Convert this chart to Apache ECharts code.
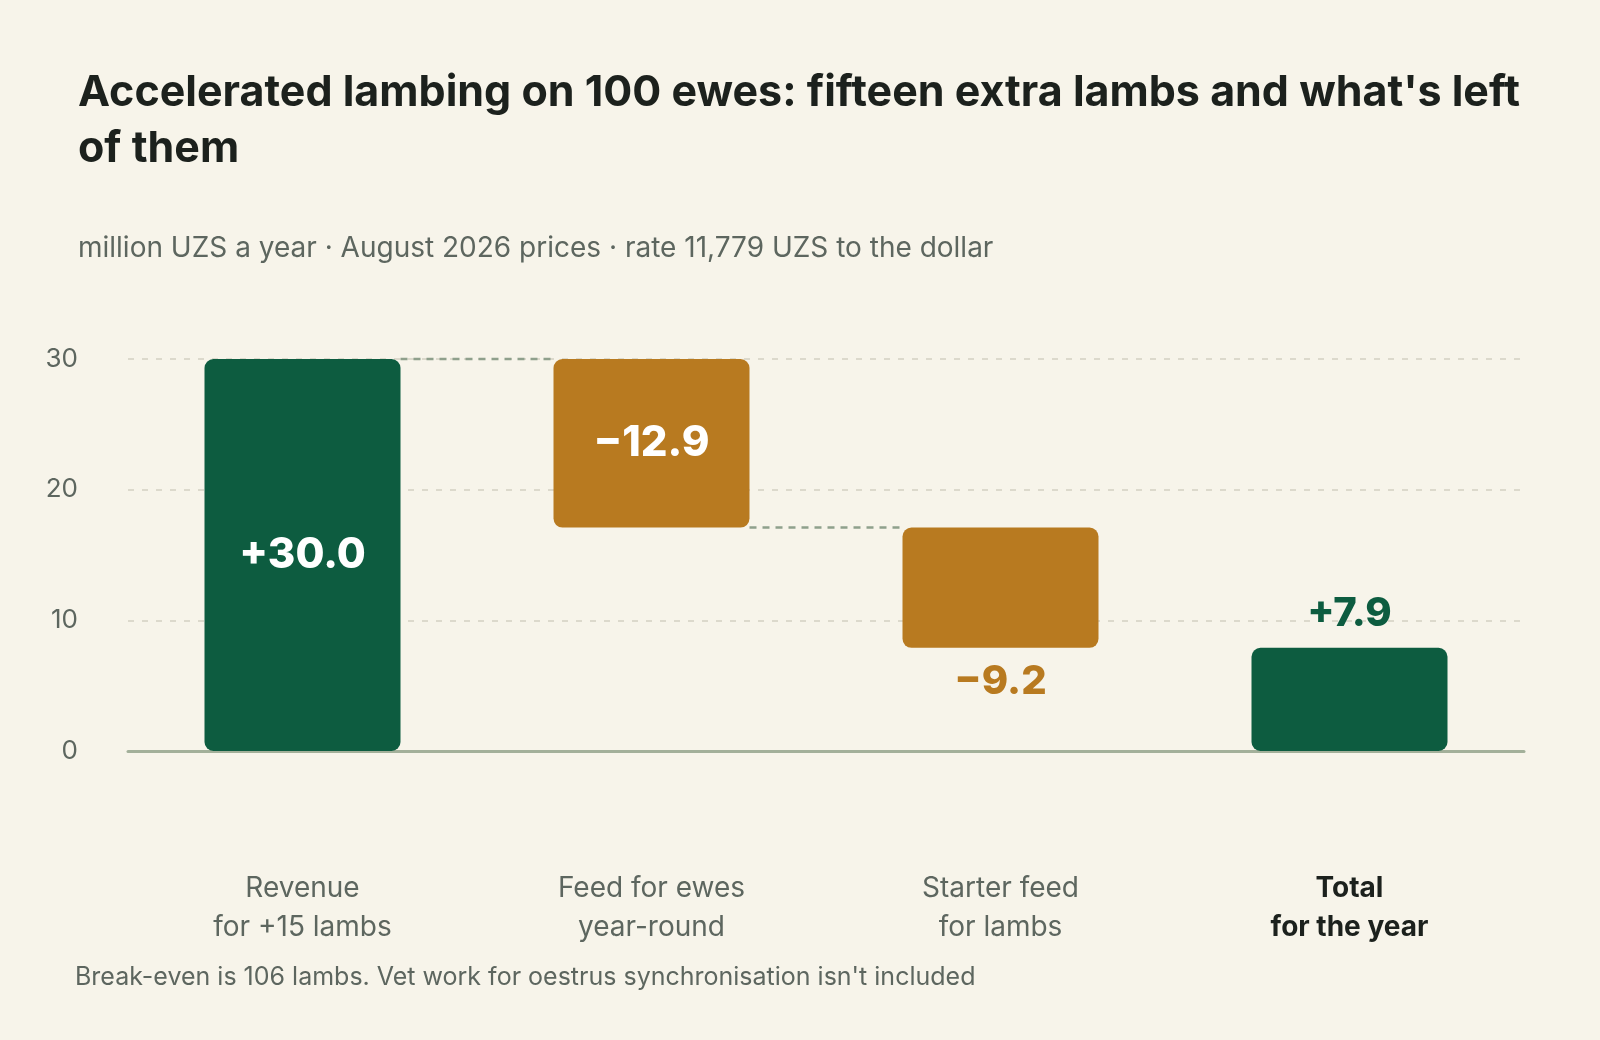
<!DOCTYPE html>
<html><head><meta charset="utf-8">
<script src="https://cdn.jsdelivr.net/npm/echarts@6/dist/echarts.min.js"></script>
<style>html,body{margin:0;background:#f7f4ea}#c{width:1600px;height:1040px}</style>
</head><body><div id="c"></div>
<script>
const categories = ['Revenue\nfor +15 lambs','Feed for ewes\nyear-round','Starter feed\nfor lambs','Total\nfor the year'];
const changes = [30.0, -12.9, -9.2, 7.9];
const labels = ['+30.0','−12.9','−9.2','+7.9'];
const yTicks = [0,10,20,30];

const GREEN='#0d5c40', ORANGE='#b87a20';
const base=[], height=[];
let run=0;
changes.forEach((v,i)=>{
  if(i===changes.length-1){base.push(0);height.push(v);return;}
  const nr=run+v;
  base.push(Math.min(run,nr)); height.push(Math.abs(v)); run=nr;
});
const connectors=[];
run=0;
for(let i=0;i<changes.length-2;i++){run+=changes[i];connectors.push([i,run]);}

const labelPos=[
 {position:'inside',color:'#fff',fontSize:42},
 {position:'inside',color:'#fff',fontSize:42},
 {position:'bottom',color:ORANGE,fontSize:40,distance:14},
 {position:'top',color:GREEN,fontSize:40,distance:14}
];
const chart=echarts.init(document.getElementById('c'));
chart.setOption({
 backgroundColor:'#f7f4ea',
 textStyle:{fontFamily:'Inter'},
 title:{text:"Accelerated lambing on 100 ewes: fifteen extra lambs and what's left\nof them",
  subtext:'million UZS a year · August 2026 prices · rate 11,779 UZS to the dollar',
  left:73,top:60,itemGap:58,
  textStyle:{fontFamily:'Inter',fontSize:43,fontWeight:'bold',color:'#1c211d',lineHeight:56},
  subtextStyle:{fontFamily:'Inter',fontSize:28,color:'#5d665f'}},
 graphic:[{type:'text',left:75,top:965,style:{text:"Break-even is 106 lambs. Vet work for oestrus synchronisation isn't included",font:'25px Inter',fill:'#5d665f'}}],
 grid:{left:128,right:76,top:359,bottom:289},
 xAxis:{type:'category',data:categories,axisTick:{show:false},
  axisLine:{lineStyle:{color:'#a3b09a',width:3}},
  axisLabel:{margin:118,fontSize:28,lineHeight:39,color:'#5d665f',fontFamily:'Inter',
   formatter:(v,i)=>i===3?'{b|'+v.replace('\n','}\n{b|')+'}':v,
   rich:{b:{fontWeight:'bold',color:'#1c211d',fontSize:28,lineHeight:39,fontFamily:'Inter'}}}},
 yAxis:{type:'value',min:0,max:30,interval:10,
  axisLabel:{fontSize:26,color:'#5d665f',margin:50,fontFamily:'Inter'},
  splitLine:{lineStyle:{type:[6,8],color:'#dcd9cc',width:2}}},
 series:[
  {type:'bar',stack:'w',data:base,itemStyle:{color:'transparent'},barWidth:196,silent:true},
  {type:'bar',stack:'w',barWidth:196,
   data:height.map((h,i)=>({value:h,itemStyle:{color:changes[i]>=0?GREEN:ORANGE,borderRadius:9},
     label:Object.assign({show:true,fontWeight:800,fontFamily:'Inter',formatter:labels[i]},labelPos[i])}))},
  {type:'custom',data:connectors,z:1,
   renderItem:(p,api)=>{
    const i=api.value(0), y=api.value(1);
    const a=api.coord([i,y]), b=api.coord([i+1,y]);
    const hw=98;
    return {type:'line',shape:{x1:a[0]+hw,y1:a[1],x2:b[0]-hw,y2:b[1]},
      style:{stroke:'#8fa08c',lineWidth:2.5,lineDash:[7,6]}};
   }}
 ]
});
</script></body></html>
